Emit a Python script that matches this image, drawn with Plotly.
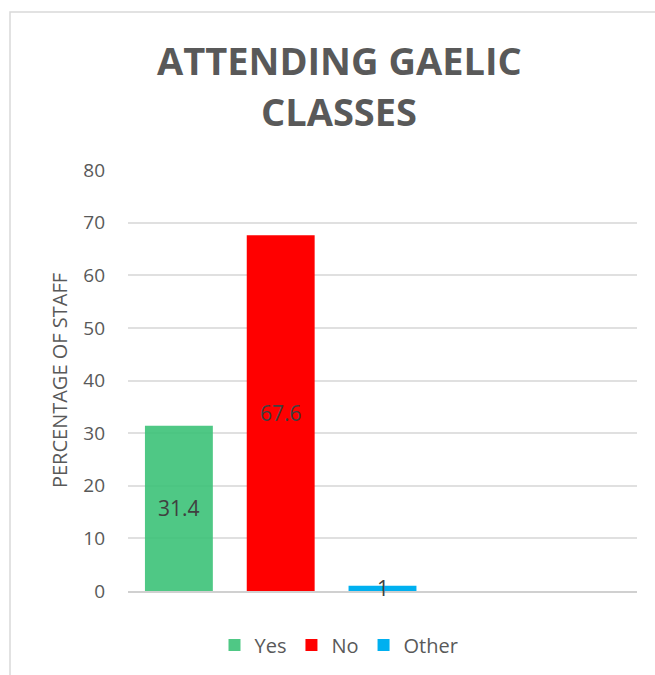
import plotly.graph_objects as go

categories = ["Yes", "No", "Other"]
values = [31.4, 67.6, 1]
colors = ["rgba(60,194,120,0.9)", "#FF0000", "#00B0F0"]
positions = [0, 1, 2]
y_ticks = [0, 10, 20, 30, 40, 50, 60, 70, 80]
title_lines = ["ATTENDING GAELIC", "CLASSES"]

W, H = 655, 675
L, R, T, B = 128, 18, 170, 84
PW, PH = W - L - R, H - T - B


def px_x(x):
    return (x - L) / PW


def px_y(y):
    return 1 + (T - y) / PH


FONT = "Open Sans"
GRAY = "#595959"

fig = go.Figure()
for cat, v, c, p in zip(categories, values, colors, positions):
    fig.add_trace(go.Bar(x=[p], y=[v], name=cat, marker=dict(color=c, line=dict(width=0)),
                         width=0.667, showlegend=True))
    fig.add_annotation(x=p, y=v / 2, text=str(v), showarrow=False, xref="x", yref="y",
                       font=dict(size=21, color="#404040", family=FONT))

for line, ypx in zip(title_lines, [60, 111]):
    fig.add_annotation(x=px_x(339), y=px_y(ypx), xref="paper", yref="paper", text=line,
                       showarrow=False, xanchor="center", yanchor="middle",
                       font=dict(size=38, color=GRAY, family=FONT, weight="bold"))

fig.add_shape(type="rect", xref="paper", yref="paper",
              x0=px_x(10), x1=1.2, y0=-0.5, y1=px_y(12),
              line=dict(color="#D9D9D9", width=1.5), fillcolor="rgba(0,0,0,0)", layer="below")

fig.update_layout(
    width=W, height=H,
    margin=dict(l=L, r=R, t=T, b=B, autoexpand=False),
    paper_bgcolor="white", plot_bgcolor="white",
    barmode="overlay",
    xaxis=dict(range=[-0.5, 4.5], showticklabels=False, showgrid=False, zeroline=False,
               showline=True, linecolor="#D0D0D0", linewidth=2, ticks=""),
    yaxis=dict(range=[0, 80], tickvals=y_ticks, showgrid=True, gridcolor="#E0E0E0", gridwidth=1.5,
               zeroline=False, showline=False, ticks="", ticklabelstandoff=22,
               tickfont=dict(size=19, color=GRAY, family=FONT),
               title=dict(text="PERCENTAGE OF STAFF", standoff=10,
                          font=dict(size=20, color=GRAY, family=FONT))),
    legend=dict(orientation="h", x=px_x(339), xanchor="center", y=px_y(645),
                yanchor="middle", font=dict(size=20, color=GRAY, family=FONT),
                itemwidth=30, traceorder="normal"),
)

fig.write_html("out.html", post_script="document.body.style.margin='0';",
               config={"displayModeBar": False})
